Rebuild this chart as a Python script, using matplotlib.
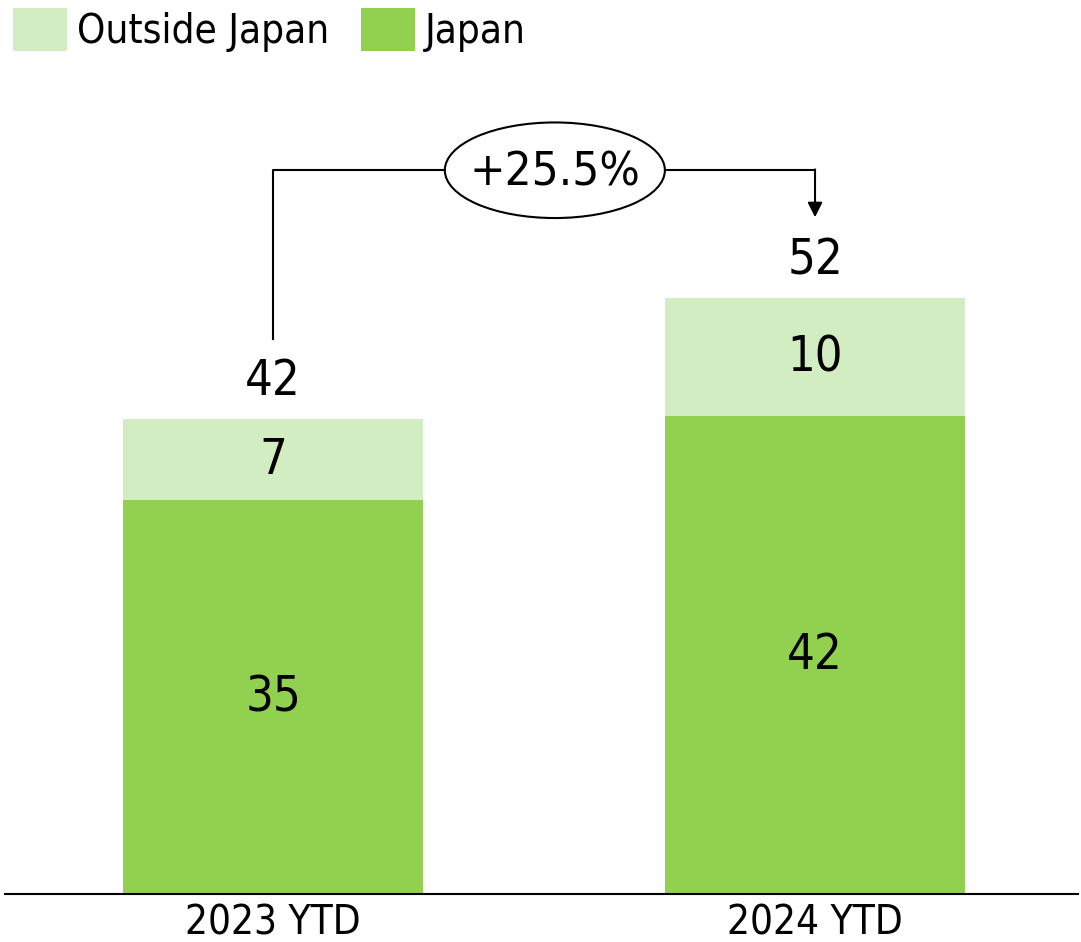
import matplotlib.pyplot as plt
from matplotlib.patches import Ellipse

plt.rcParams["font.family"] = "DejaVu Sans"
plt.rcParams["font.stretch"] = "condensed"

# data
periods = ["2023 YTD", "2024 YTD"]
japan = [34.62, 42.00]
outside = [7.12, 10.37]

color_japan = "#92D050"
color_outside = "#D3EDC3"

fig = plt.figure(figsize=(10.81, 9.42), dpi=100)
ax = fig.add_axes([5 / 1081, 48 / 942, 1073 / 1081, 894 / 942])

x = list(range(len(periods)))
totals = [j + o for j, o in zip(japan, outside)]

ax.bar(x, japan, width=0.555, color=color_japan, label="Japan")
ax.bar(x, outside, width=0.555, bottom=japan, color=color_outside, label="Outside Japan")

# labels inside bars
for i in x:
    ax.text(i, japan[i] / 2, f"{japan[i]:.0f}", ha="center", va="center", fontsize=35)
    ax.text(i, japan[i] + outside[i] / 2, f"{outside[i]:.0f}", ha="center", va="center", fontsize=35)
    ax.annotate(f"{totals[i]:.0f}", (i, totals[i]), xytext=(0, 17), textcoords="offset points",
                ha="center", va="baseline", fontsize=35)

ax.set_xlim(-0.4945, 1.4852)
ax.set_ylim(0, 78.56)

# growth bracket
growth = (totals[1] / totals[0] - 1) * 100
bracket_y = 63.6
ell_x, ell_w, ell_h = 0.52, 0.406, 8.4
ax.plot([0, 0, ell_x - ell_w / 2], [totals[0] + 7.0, bracket_y, bracket_y], color="black", lw=1.5)
ax.plot([ell_x + ell_w / 2, 1], [bracket_y, bracket_y], color="black", lw=1.5)
ax.annotate("", xy=(1, totals[1] + 7.1), xytext=(1, bracket_y + 0.07),
            arrowprops=dict(arrowstyle="-|>", color="black", lw=1.5, mutation_scale=22,
                            shrinkA=0, shrinkB=0))
ax.add_patch(Ellipse((ell_x, bracket_y), ell_w, ell_h, facecolor="white", edgecolor="black", lw=1.5))
ax.annotate(f"+{growth:.1f}%", (ell_x, bracket_y), xytext=(0, -11), textcoords="offset points",
            ha="center", va="baseline", fontsize=34)

ax.set_xticks(x)
ax.set_xticklabels(periods, fontsize=29)
ax.tick_params(axis="x", length=0, pad=7)
ax.set_yticks([])
for s in ["top", "left", "right"]:
    ax.spines[s].set_visible(False)
ax.spines["bottom"].set_linewidth(1.5)

handles, labels = ax.get_legend_handles_labels()
fig.legend(handles[::-1], labels[::-1], loc="upper left", bbox_to_anchor=(13 / 1081, 1 - 8 / 942),
           ncol=2, frameon=False, fontsize=29, handlelength=1.33, handleheight=1.25,
           handletextpad=0.25, columnspacing=0.8, borderpad=0, borderaxespad=0)

plt.savefig("out.png", dpi=100)
